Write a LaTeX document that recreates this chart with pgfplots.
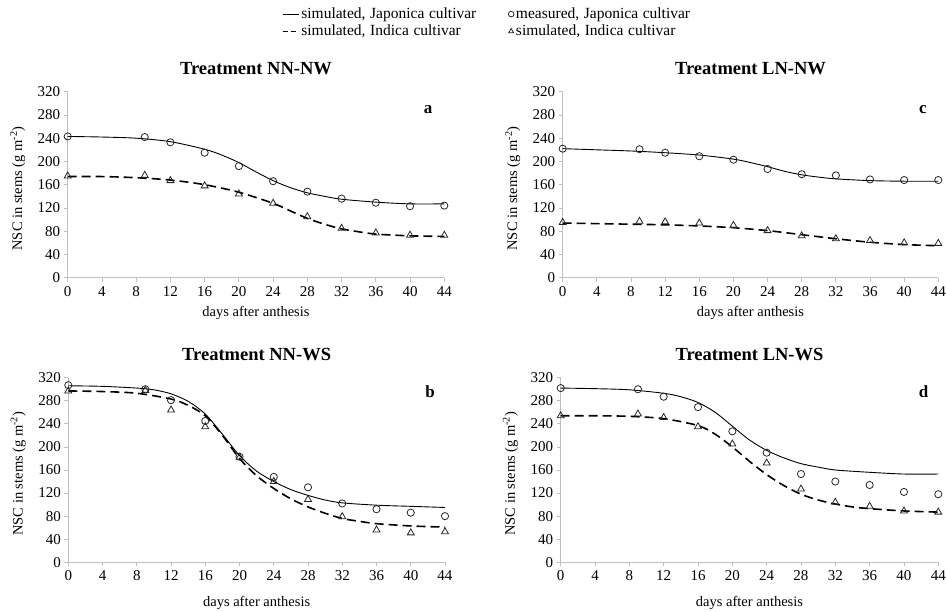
\documentclass[border=0pt]{standalone}
\usepackage{fontspec}
\setmainfont{Liberation Serif}
\usepackage{pgfplots}
\pgfplotsset{compat=1.18}

\definecolor{axgray}{HTML}{BFBFBF}
\definecolor{mk}{HTML}{262626}

\pgfplotsset{
  panel/.style={
    scale only axis, clip=false,
    xmin=0, xmax=44, ymin=0, ymax=320,
    xtick={0,4,...,44}, ytick={0,40,...,320},
    axis x line*=bottom, axis y line*=left,
    axis line style={color=axgray, line width=0.8pt},
    tick style={color=axgray, line width=0.8pt},
    tick align=outside, major tick length=4pt,
    /pgf/number format/assume math mode=true,
    ticklabel style={font=\fontsize{15}{18}\selectfont, color=black},
    xticklabel style={yshift=-1pt},
    xlabel={days after anthesis},
    ylabel={NSC in stems (g m\textsuperscript{-2})},
    label style={font=\fontsize{14.5}{17}\selectfont},
    ylabel style={at={(axis description cs:-0.133,0.48)}, anchor=center},
    title style={font=\fontsize{18.5}{21}\selectfont\bfseries, at={(axis description cs:0.5,1)}, anchor=base, yshift=11pt},
  },
  simJ/.style={black, line width=0.9pt, smooth, tension=0.5, no marks},
  simI/.style={black, line width=1.6pt, dash pattern=on 9pt off 5pt, smooth, tension=0.5, no marks},
  mJ/.style={only marks, mark=o, mark size=3.6pt, mark options={draw=mk, line width=0.8pt, fill=none}},
  mI/.style={only marks, mark=triangle, mark size=4pt, mark options={draw=mk, line width=0.8pt, fill=none}},
  lineleg/.style={legend image code/.code={\draw[##1] (0pt,0pt) -- (16pt,0pt);}},
  dashleg/.style={legend image code/.code={\draw[##1, dash pattern=on 5pt off 3pt, line width=1.2pt] (0pt,0pt) -- (16pt,0pt);}},
  markleg/.style={legend image code/.code={\draw[##1, mark size=2.8pt] plot[only marks] coordinates {(3pt,0pt)};}},
}

\newcommand{\plab}[1]{\fontsize{17}{20}\selectfont\bfseries #1}
\newcommand{\ws}{\hspace{0.3em}}

\begin{document}
\begin{tikzpicture}
\useasboundingbox (0pt,0pt) rectangle (946pt,612pt);

% ---- a: NN-NW
\begin{axis}[panel, at={(67.7pt,334.3pt)}, anchor=south west, width=376.6pt, height=186pt,
  title={Treatment NN-NW},
  xlabel style={at={(axis description cs:0.5,-0.19)}, anchor=center},
  legend columns=2,
  legend cell align=left,
  legend style={draw=none, fill=none, inner sep=0pt, at={(axis description cs:0.569,1.462)}, anchor=north west,
    font=\fontsize{15.5}{18}\selectfont, row sep=1pt,
    /tikz/column 2/.style={column sep=30pt}},
]
\addplot[simJ, lineleg] coordinates {(0,243) (4,242) (8,240) (12,234) (16,221) (18,211) (20,198) (22,182) (24,167) (26,155) (28,146) (30,140) (32,135) (36,130) (40,127) (44,127)};
\addplot[mJ, markleg] coordinates {(0,243) (9,242) (12,233) (16,215) (20,192) (24,166) (28,148) (32,136) (36,129) (40,123) (44,124)};
\addplot[simI, dashleg] coordinates {(0,174) (4,174) (8,172) (12,168) (16,160) (20,147) (24,128) (26,115) (28,102) (30,92) (32,84) (34,79) (36,75) (40,72) (44,71)};
\addplot[mI, markleg] coordinates {(0,175) (9,176) (12,167) (16,158) (20,144) (24,128) (28,105) (32,85) (36,77) (40,73) (44,73)};
\legend{{simulated,\ws Japonica\ws cultivar}, {measured,\ws Japonica\ws cultivar}, {simulated,\ws Indica\ws cultivar}, {simulated,\ws Indica\ws cultivar}}
\node at (axis cs:42.1,288.5) {\plab{a}};
\end{axis}

% ---- c: LN-NW
\begin{axis}[panel, at={(562.7pt,334.3pt)}, anchor=south west, width=375.6pt, height=186pt,
  title={Treatment LN-NW},
  xlabel style={at={(axis description cs:0.5,-0.19)}, anchor=center}]
\addplot[simJ] coordinates {(0,222) (4,220) (8,218) (12,215) (16,211) (20,204) (22,198) (24,191) (26,183) (28,177) (30,173) (32,170) (36,167) (40,166) (44,166)};
\addplot[mJ] coordinates {(0,222) (9,221) (12,215) (16,209) (20,203) (24,187) (28,178) (32,176) (36,169) (40,168) (44,168)};
\addplot[simI] coordinates {(0,94) (4,93) (8,92) (12,91) (16,89) (20,86) (24,81) (28,74) (32,67) (36,61) (40,57) (44,55)};
\addplot[mI] coordinates {(0,95) (9,97) (12,96) (16,94) (20,90) (24,81) (28,72) (32,67) (36,64) (40,60) (44,59)};
\node at (axis cs:42.2,288.5) {\plab{c}};
\end{axis}

% ---- b: NN-WS
\begin{axis}[panel, at={(68.3pt,49.7pt)}, anchor=south west, width=376.7pt, height=184.6pt,
  title={Treatment NN-WS},
  xlabel style={at={(axis description cs:0.5,-0.222)}, anchor=center}]
\addplot[simJ] coordinates {(0,306) (4,305) (8,302) (10,299) (12,292) (14,279) (16,257) (18,222) (20,185) (22,158) (24,140) (26,126) (28,116) (30,108) (32,103) (36,99) (40,97) (44,95)};
\addplot[mJ] coordinates {(0,307) (9,300) (12,281) (16,245) (20,183) (24,148) (28,130) (32,102) (36,92) (40,86) (44,80)};
\addplot[simI] coordinates {(0,297) (4,296) (8,293) (12,283) (14,272) (16,254) (18,220) (20,180) (22,150) (24,128) (26,110) (28,96) (30,85) (32,76) (34,71) (36,67) (40,63) (44,61)};
\addplot[mI] coordinates {(0,297) (9,298) (12,264) (16,235) (20,182) (24,140) (28,109) (32,79) (36,56) (40,51) (44,53)};
\node at (axis cs:42.25,295) {\plab{b}};
\end{axis}

% ---- d: LN-WS
\begin{axis}[panel, at={(560.7pt,49.7pt)}, anchor=south west, width=377.6pt, height=184.6pt,
  title={Treatment LN-WS},
  xlabel style={at={(axis description cs:0.5,-0.222)}, anchor=center}]
\addplot[simJ] coordinates {(0,302) (4,301) (8,299) (12,293) (14,287) (16,277) (18,260) (20,236) (22,212) (24,194) (26,181) (28,171) (30,165) (32,160) (36,156) (40,153) (44,153)};
\addplot[mJ] coordinates {(0,302) (9,300) (12,287) (16,269) (20,227) (24,190) (28,153) (32,140) (36,134) (40,122) (44,118)};
\addplot[simI] coordinates {(0,254) (4,254) (8,253) (12,249) (16,237) (18,222) (20,200) (22,175) (24,152) (26,133) (28,118) (30,108) (32,101) (34,96) (36,93) (40,89) (44,87)};
\addplot[mI] coordinates {(0,254) (9,257) (12,251) (16,235) (20,205) (24,172) (28,127) (32,104) (36,97) (40,89) (44,87)};
\node at (axis cs:42.3,295) {\plab{d}};
\end{axis}
\end{tikzpicture}
\end{document}
